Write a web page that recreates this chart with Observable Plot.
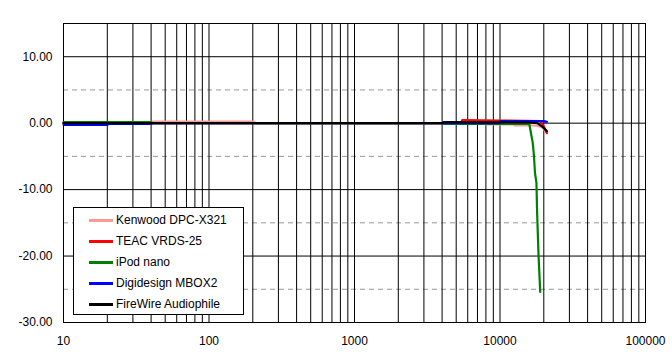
<!DOCTYPE html>
<html>
<head>
<meta charset="utf-8">
<script src="https://cdn.jsdelivr.net/npm/d3@7"></script>
<script src="https://cdn.jsdelivr.net/npm/@observablehq/plot@0.6"></script>
<style>
  body { margin: 0; background: #fff; }
  #wrap { position: relative; width: 672px; height: 363px; font-family: "Liberation Sans", Arial, sans-serif; }
  #legend { position: absolute; left: 73px; top: 207px; width: 169px; height: 106px; border: 1px solid #000; background: #fff; font-size: 12px; }
  .row { position: absolute; left: 0; height: 14px; display: flex; align-items: center; }
  .sw { width: 24px; height: 3px; margin-left: 15px; margin-right: 3px; }
</style>
</head>
<body>
<div id="wrap"></div>
<script>
// Series names and colours
const seriesNames = ["Kenwood DPC-X321", "TEAC VRDS-25", "iPod nano", "Digidesign MBOX2", "FireWire Audiophile"];
const seriesColors = ["#ff9999", "#ff0000", "#008000", "#0000ff", "#000000"];

// Frequency (Hz) / level (dB) pairs
const kenwoodFreq = [10, 40, 41, 200, 210, 7900, 8000, 12500, 12600, 17500, 19500, 21000];
const kenwoodDb   = [0, 0, 0.25, 0.25, 0, 0, -0.2, -0.2, -0.35, -0.35, -0.6, -1.5];

const teacFreq = [10, 5400, 5500, 10000, 19000, 20000, 21000];
const teacDb   = [0, 0, 0.45, 0.4, 0.3, -0.5, -1.5];

const ipodFreq = [10, 40, 41, 4000, 4100, 15900, 16200, 16800, 17100, 17400, 17800, 18000, 18400, 18900];
const ipodDb   = [0.15, 0.15, 0, 0, -0.1, -0.1, -1.1, -3, -4.8, -7.5, -9, -13.6, -19.9, -25.4];

const mboxFreq = [10, 20, 20.5, 40, 41, 9900, 10000, 20000, 21000];
const mboxDb   = [-0.25, -0.25, -0.1, -0.1, 0, 0, 0.3, 0.3, 0.2];

const firewireFreq = [10, 4000, 4100, 16000, 18000, 19500, 21000];
const firewireDb   = [0, 0, 0.15, 0.1, 0, -0.5, -1.2];

// Axis ticks
const xTicks = [10, 100, 1000, 10000, 100000];
const yTicks = [-30, -20, -10, 0, 10];
const yMajorGrid = [-20, -10, 0, 10];
const yMinorGrid = [-25, -15, -5, 5];

const freqs = [kenwoodFreq, teacFreq, ipodFreq, mboxFreq, firewireFreq];
const dbs = [kenwoodDb, teacDb, ipodDb, mboxDb, firewireDb];
const rows = [];
seriesNames.forEach((name, i) => {
  freqs[i].forEach((f, j) => rows.push({series: name, f, db: dbs[i][j]}));
});

// vertical grid lines at every 1..9 x decade
const xGrid = [];
for (let e = 1; e < 5; e++) for (let m = 1; m < 10; m++) xGrid.push(m * Math.pow(10, e));
xGrid.push(100000);

const chart = Plot.plot({
  width: 672,
  height: 363,
  marginTop: 23,
  marginRight: 27,
  marginBottom: 41,
  marginLeft: 63,
  style: {fontFamily: "'Liberation Sans', Arial, sans-serif", fontSize: "12px", color: "#000", background: "#fff"},
  x: {type: "log", domain: [10, 100000], ticks: xTicks, tickFormat: d => String(d), tickSize: 0, tickPadding: 14, label: null},
  y: {domain: [-30, 15], ticks: yTicks, tickFormat: d => d.toFixed(2), tickSize: 0, tickPadding: 11, label: null},
  color: {domain: seriesNames, range: seriesColors},
  marks: [
    Plot.ruleY(yMinorGrid, {stroke: "#999", strokeDasharray: "5,4", strokeWidth: 1}),
    Plot.ruleX(xGrid, {stroke: "#000", strokeWidth: 1}),
    Plot.ruleY(yMajorGrid, {stroke: "#000", strokeWidth: 1}),
    Plot.frame({stroke: "#000"}),
    Plot.line(rows, {x: "f", y: "db", z: "series", stroke: "series", strokeWidth: 2.2, curve: "linear"})
  ]
});
document.getElementById("wrap").appendChild(chart);

// Legend
const legend = document.createElement("div");
legend.id = "legend";
seriesNames.forEach((name, i) => {
  const r = document.createElement("div");
  r.className = "row";
  r.style.top = (5 + i * 21) + "px";
  const sw = document.createElement("span");
  sw.className = "sw";
  sw.style.background = seriesColors[i];
  const t = document.createElement("span");
  t.textContent = name;
  r.appendChild(sw); r.appendChild(t);
  legend.appendChild(r);
});
document.getElementById("wrap").appendChild(legend);
</script>
</body>
</html>
